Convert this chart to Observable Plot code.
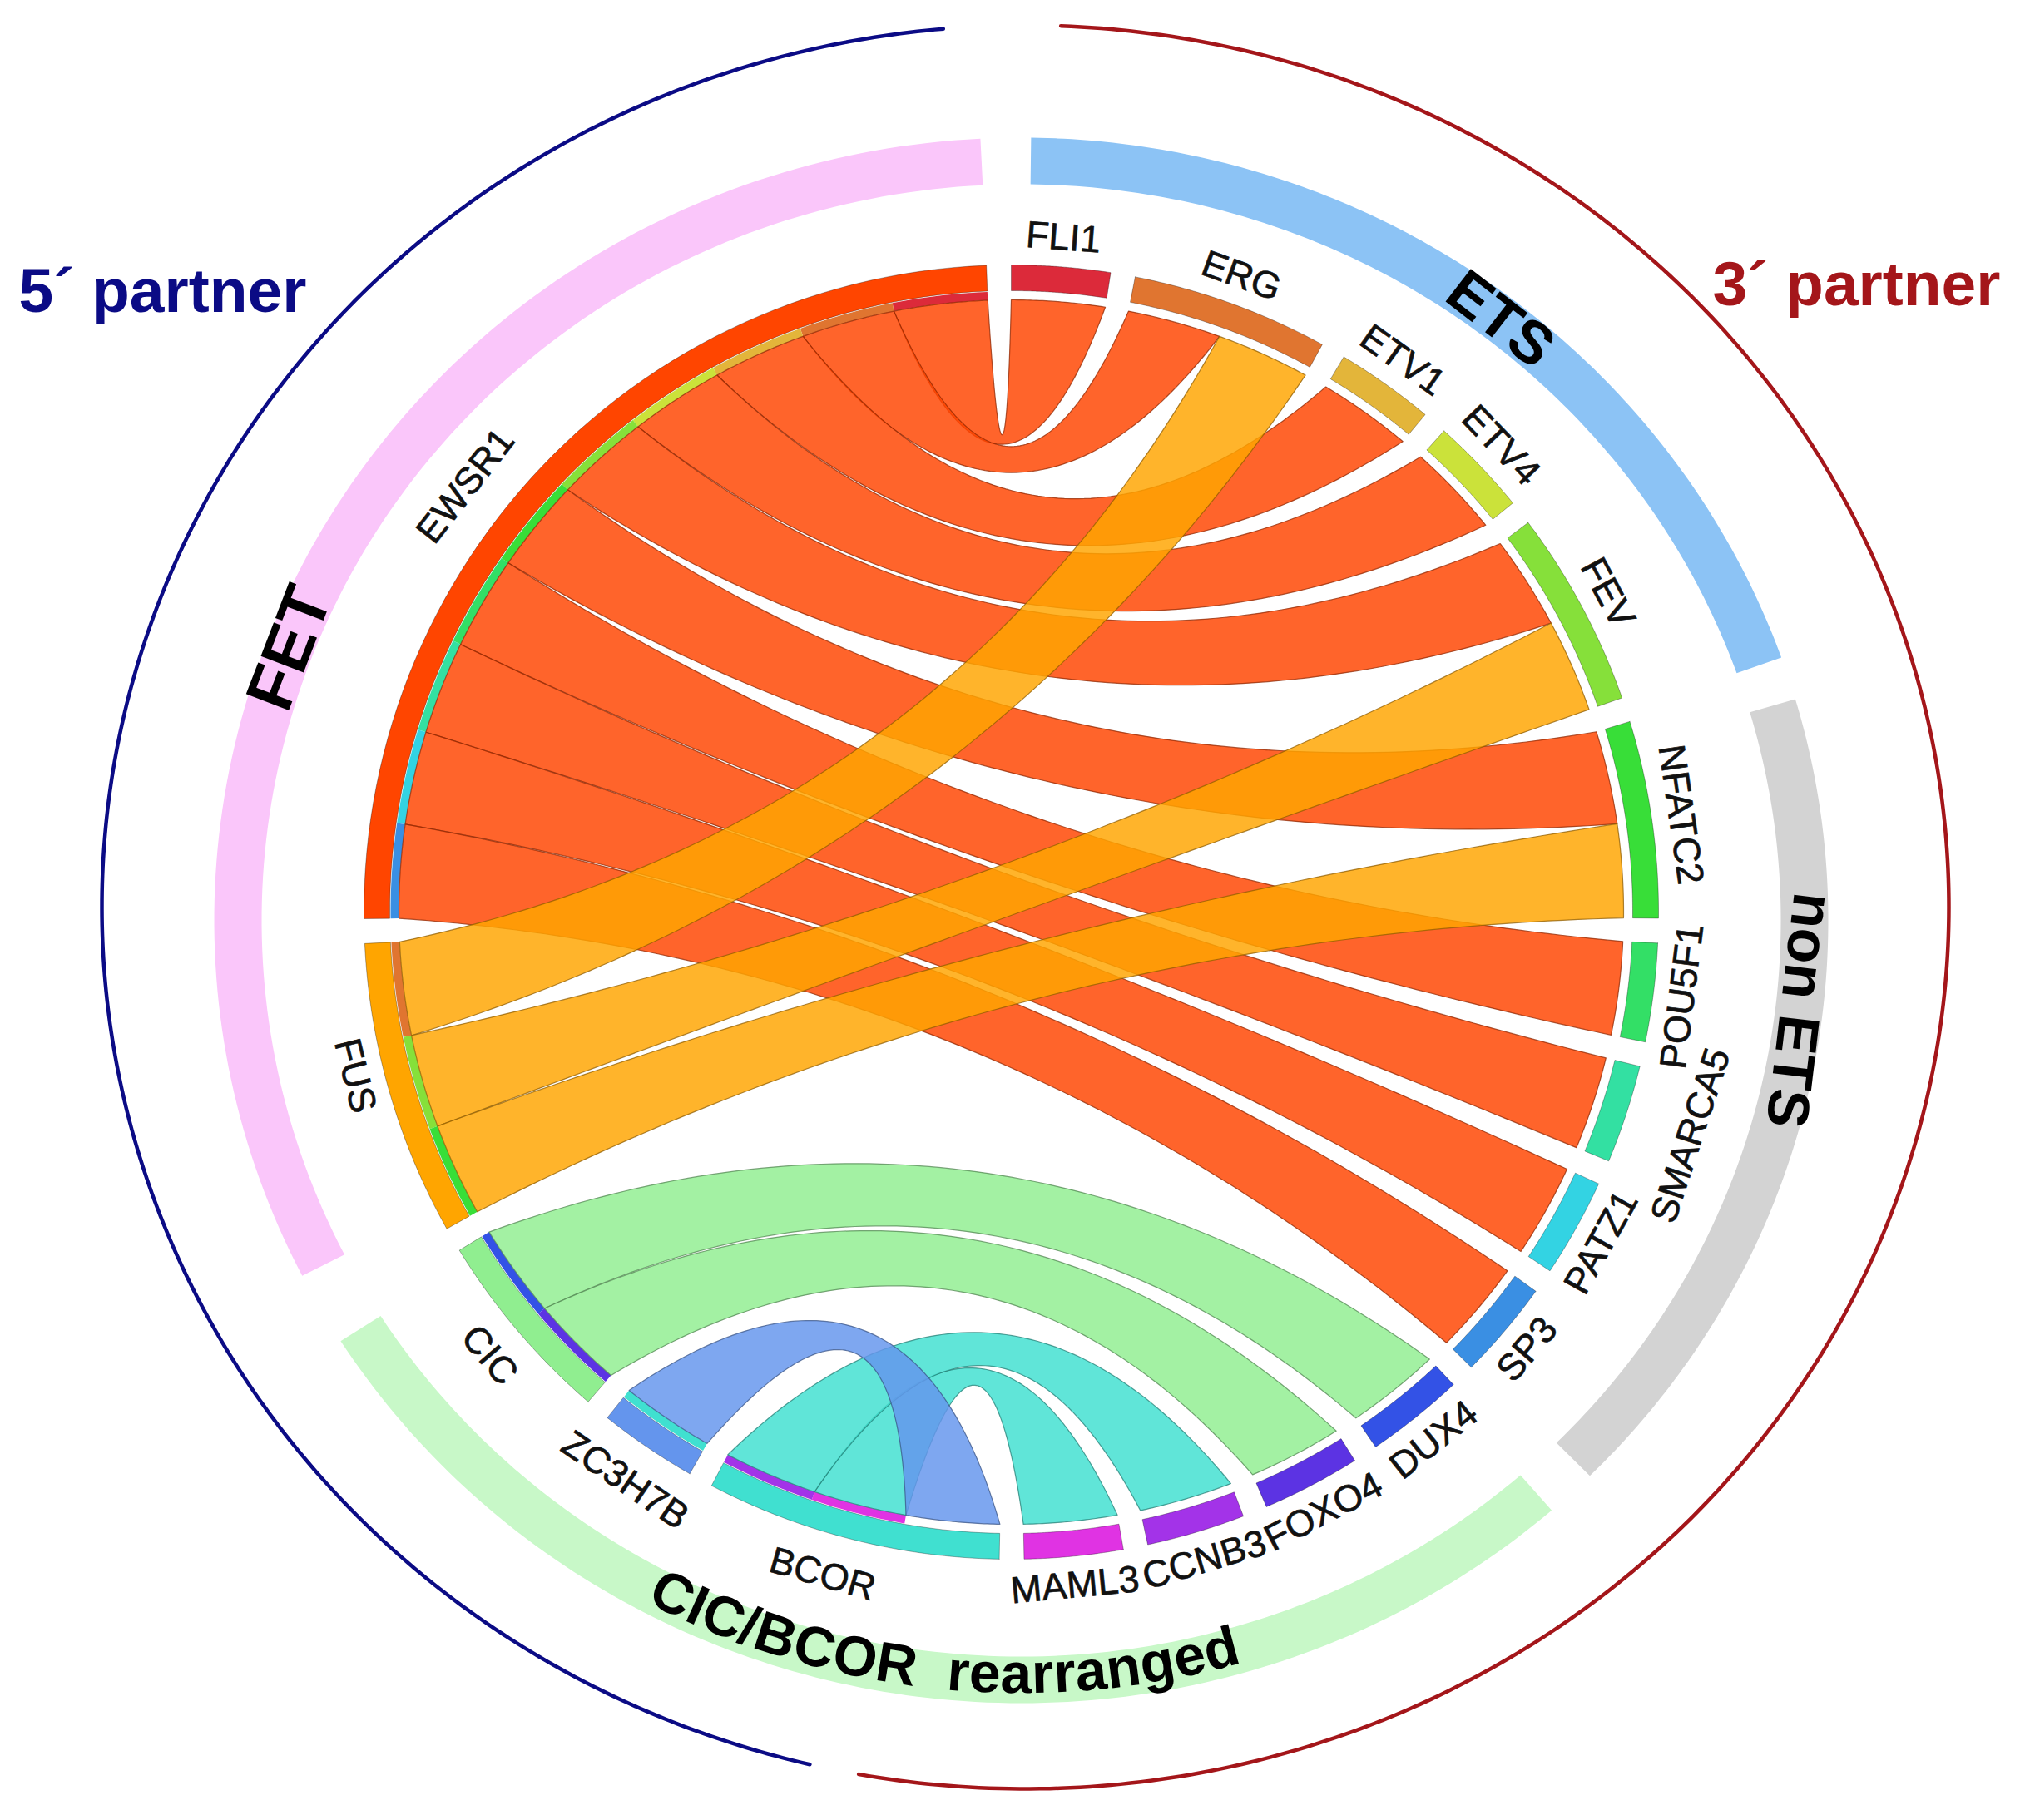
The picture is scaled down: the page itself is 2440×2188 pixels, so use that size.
<!DOCTYPE html>
<html><head><meta charset="utf-8">
<script src="https://cdn.jsdelivr.net/npm/d3@7"></script>
<script src="https://cdn.jsdelivr.net/npm/@observablehq/plot@0.6"></script>
<style>body{margin:0;background:#fff} #chart svg{display:block}</style>
</head><body><div id="chart"></div>
<script>
// ---------------- DATA ----------------
const sectors = ["FLI1","ERG","ETV1","ETV4","FEV","NFATC2","POU5F1","SMARCA5","PATZ1","SP3","DUX4","FOXO4","CCNB3","MAML3","BCOR","ZC3H7B","CIC","FUS","EWSR1"];
const sectorColors = ["#DC2A3A","#E07530","#E3B53A","#CBE23A","#86E03A","#38DE38","#33DF66","#33E0A2","#33D3E3","#3A8FE3","#3352E6","#5C33E3","#A333E8","#E033E3","#40E0D0","#6495ED","#90EE90","#FFA500","#FF4500"];
const linkSource = ["EWSR1","EWSR1","EWSR1","EWSR1","EWSR1","EWSR1","EWSR1","EWSR1","EWSR1","EWSR1","FUS","FUS","FUS","CIC","CIC","BCOR","BCOR","ZC3H7B"];
const linkTarget = ["FLI1","ERG","ETV1","ETV4","FEV","NFATC2","POU5F1","SMARCA5","PATZ1","SP3","ERG","FEV","NFATC2","DUX4","FOXO4","MAML3","CCNB3","BCOR"];
const linkValue  = [1,1,1,1,1,1,1,1,1,1,1,1,1,1,1,1,1,1];
const groupNames   = ["FET","ETS","non ETS","CIC/BCOR rearranged"];
const groupMembers = [["FUS","EWSR1"],["FLI1","FEV"],["NFATC2","SP3"],["DUX4","CIC"]];
const groupColors  = ["#FAC6FA","#8CC3F5","#D3D3D3","#C8F8C8"];
const partnerNames  = ["5\u00B4 partner","3\u00B4 partner"];
const partnerColors = ["#0B0B85","#A4161A"];

// ---------------- LAYOUT ----------------
const W = 2440, H = 2188, CX = 1215, CY = 1096;
const GAP = 2.2, START = 0;
const R_LINK = 736, R_BAR0 = 736, R_BAR1 = 746, R_BAND0 = 747, R_BAND1 = 778;
const R_LABEL = 813;
const labelOverride = {EWSR1: {a: 308, r: 832}, SMARCA5: {r: 860}, FUS: {a: 256}, MAML3: {a: 174.6},
  FOXO4: {a: 152.5}, BCOR: {a: 195.9, r: 828}, ZC3H7B: {r: 826}, CIC: {r: 823}};
const EOUT = {cx: 17, cy: -6, rx: 1110, ry: 1060};
const EBAND = {cx: 12, cy: 10, rx0: 913, rx1: 970, ry0: 885, ry1: 941};
const partnerArcs = [[193.5, 354.9],[2.2, 190.4]];
const groupTrim = [[2.3, 0.7],[0.7, 0.3],[0.7, -0.5],[2.0, 1.0]];
const groupLabelAngle = [291, 37.7, 96.8, 186];
const groupLabelSize = [80, 72, 70];
const CURVE_SPAN = 44.3;
const FONT = "Liberation Sans, Arial, Helvetica, sans-serif";

const deg = Math.PI/180;
const pt = (r, a) => ({x: r*Math.sin(a*deg), y: -r*Math.cos(a*deg)});
const arc = (r, a0, a1, n = 60) => d3.range(n+1).map(i => pt(r, a0 + (a1-a0)*i/n));
const ell = (e, rx, ry, a) => ({x: e.cx + rx*Math.sin(a*deg), y: e.cy - ry*Math.cos(a*deg)});
const ellArc = (e, rx, ry, a0, a1, n = 120) => d3.range(n+1).map(i => ell(e, rx, ry, a0 + (a1-a0)*i/n));
function quad(p0, c, p2, n = 80) {
  return d3.range(n+1).map(i => { const t = i/n, u = 1-t;
    return {x: u*u*p0.x + 2*u*t*c.x + t*t*p2.x, y: u*u*p0.y + 2*u*t*c.y + t*t*p2.y}; });
}
function ctrl(a, b, r) {
  const d = Math.abs(((b - a) % 360 + 540) % 360 - 180);
  const ux = Math.sin(a*deg) + Math.sin(b*deg), uy = -Math.cos(a*deg) - Math.cos(b*deg);
  const m = Math.hypot(ux, uy);
  if (m < 1e-6) return {x: 0, y: 0};
  const k = 0.56*Math.pow(Math.cos(d/2*deg), 2);
  return {x: ux/m*r*k, y: uy/m*r*k};
}

// sector layout from link values
const links = linkSource.map((s, i) => ({source: s, target: linkTarget[i], value: linkValue[i]}));
const idx = s => sectors.indexOf(s);
const tot = sectors.map(s => d3.sum(links, l => (l.source === s ? l.value : 0) + (l.target === s ? l.value : 0)));
const unit = (360 - GAP*sectors.length)/d3.sum(tot);
const sec = []; let acc = START;
sectors.forEach((s, i) => { sec.push({name: s, color: sectorColors[i], a0: acc, a1: acc + tot[i]*unit}); acc += tot[i]*unit + GAP; });
sectors.forEach((s, si) => {
  const ends = [];
  links.forEach((l, li) => {
    if (l.source === s) ends.push({li, role: "s", p: idx(l.target), v: l.value});
    if (l.target === s) ends.push({li, role: "t", p: idx(l.source), v: l.value});
  });
  ends.sort((a, b) => b.p - a.p);
  let a = sec[si].a0;
  ends.forEach(e => { const a1 = a + e.v*unit; links[e.li][e.role] = [a, a1]; a = a1; });
});

const closed = pts => pts.concat([pts[0]]);
const marks = [];

// outer partner arcs
partnerArcs.forEach(([a0, a1], i) => {
  marks.push(Plot.line(ellArc(EOUT, EOUT.rx, EOUT.ry, a0, a1, 300), {x: "x", y: "y", stroke: partnerColors[i], strokeWidth: 4.5}));
});
// group bands
const groupSpan = groupMembers.map(([f, l], i) => [sec[idx(f)].a0 + groupTrim[i][0], sec[idx(l)].a1 - groupTrim[i][1]]);
groupSpan.forEach(([a0, a1], i) => {
  const pts = ellArc(EBAND, EBAND.rx1, EBAND.ry1, a0, a1).concat(ellArc(EBAND, EBAND.rx0, EBAND.ry0, a1, a0));
  marks.push(Plot.line(closed(pts), {x: "x", y: "y", fill: groupColors[i], stroke: "none"}));
});
// sector bands
sec.forEach(s => {
  const pts = arc(R_BAND1, s.a0, s.a1).concat(arc(R_BAND0, s.a1, s.a0));
  marks.push(Plot.line(closed(pts), {x: "x", y: "y", fill: s.color, stroke: "#000", strokeOpacity: 0.3, strokeWidth: 1}));
});
// target bars on source ends
links.forEach(l => {
  const [a0, a1] = l.s;
  const pts = arc(R_BAR1, a0, a1, 20).concat(arc(R_BAR0, a1, a0, 20));
  marks.push(Plot.line(closed(pts), {x: "x", y: "y", fill: sec[idx(l.target)].color, stroke: "none"}));
});
// ribbons
links.forEach(l => {
  const [a0, a1] = l.s, [b0, b1] = l.t;
  const pts = [
    ...arc(R_LINK, a0, a1, 30),
    ...quad(pt(R_LINK, a1), ctrl(a1, b0, R_LINK), pt(R_LINK, b0)),
    ...arc(R_LINK, b0, b1, 30),
    ...quad(pt(R_LINK, b1), ctrl(b1, a0, R_LINK), pt(R_LINK, a0))
  ];
  const c = sec[idx(l.source)].color;
  marks.push(Plot.line(closed(pts), {x: "x", y: "y", fill: c, fillOpacity: 0.83,
    stroke: d3.color(c).darker(1.6).formatHex(), strokeOpacity: 0.75, strokeWidth: 1.2}));
});
// sector labels
const labels = sec.map(s => {
  const o = labelOverride[s.name] || {};
  const m = o.a ?? (s.a0 + s.a1)/2;
  const flip = m > 90 && m < 270;
  const p = pt(o.r ?? R_LABEL, m);
  return {name: s.name, x: p.x, y: p.y, rot: flip ? m - 180 : (m > 180 ? m - 360 : m)};
});
marks.push(Plot.text(labels, {x: "x", y: "y", text: "name", rotate: "rot", fontSize: 45, fontFamily: FONT, fill: "#111", stroke: "#111", strokeWidth: 0.7, textAnchor: "middle", lineAnchor: "middle"}));
// straight group labels
[0,1,2].forEach(i => {
  const a = groupLabelAngle[i];
  const p = ell(EBAND, (EBAND.rx0+EBAND.rx1)/2, (EBAND.ry0+EBAND.ry1)/2, a);
  marks.push(Plot.text([{name: groupNames[i], x: p.x, y: p.y, rot: a > 180 ? a - 360 : a}],
    {x: "x", y: "y", text: "name", rotate: "rot", fontSize: groupLabelSize[i], fontWeight: "bold", fontFamily: FONT, fill: "#000", textAnchor: "middle", lineAnchor: "middle"}));
});
// curved group label
{
  const txt = groupNames[3].replace(" ", "  ");
  const ctx = document.createElement("canvas").getContext("2d");
  ctx.font = `bold 100px ${FONT}`;
  const R = (EBAND.rx0 + EBAND.rx1)/2;
  const fs = 100*(CURVE_SPAN*deg*R)/ctx.measureText(txt).width;
  ctx.font = `bold ${fs}px ${FONT}`;
  const widths = [...txt].map(ch => ctx.measureText(ch).width);
  const total = d3.sum(widths);
  let s = 0;
  const chars = [...txt].map((ch, i) => {
    const c = s + widths[i]/2; s += widths[i];
    const a = groupLabelAngle[3] + (total/2 - c)/R/deg;
    const p = ell(EBAND, (EBAND.rx0+EBAND.rx1)/2 - 6, (EBAND.ry0+EBAND.ry1)/2 - 6, a);
    return {ch, x: p.x, y: p.y, rot: a - 180};
  }).filter(d => d.ch !== " ");
  marks.push(Plot.text(chars, {x: "x", y: "y", text: "ch", rotate: "rot", fontSize: fs, fontWeight: "bold", fontFamily: FONT, fill: "#000", textAnchor: "middle", lineAnchor: "middle"}));
}
// partner titles
marks.push(Plot.text([partnerNames[0]], {frameAnchor: "top-left", dx: 22, dy: 350, text: d => d, textAnchor: "start", lineAnchor: "middle", fontSize: 75, fontWeight: "bold", fontFamily: FONT, fill: partnerColors[0]}));
marks.push(Plot.text([partnerNames[1]], {frameAnchor: "top-right", dx: -36, dy: 342, text: d => d, textAnchor: "end", lineAnchor: "middle", fontSize: 75, fontWeight: "bold", fontFamily: FONT, fill: partnerColors[1]}));

const chart = Plot.plot({
  width: W, height: H, margin: 0,
  x: {domain: [-CX, W - CX], axis: null},
  y: {domain: [H - CY, -CY], axis: null},
  style: {background: "#fff"},
  marks
});
document.getElementById("chart").appendChild(chart);
</script>
</body></html>
